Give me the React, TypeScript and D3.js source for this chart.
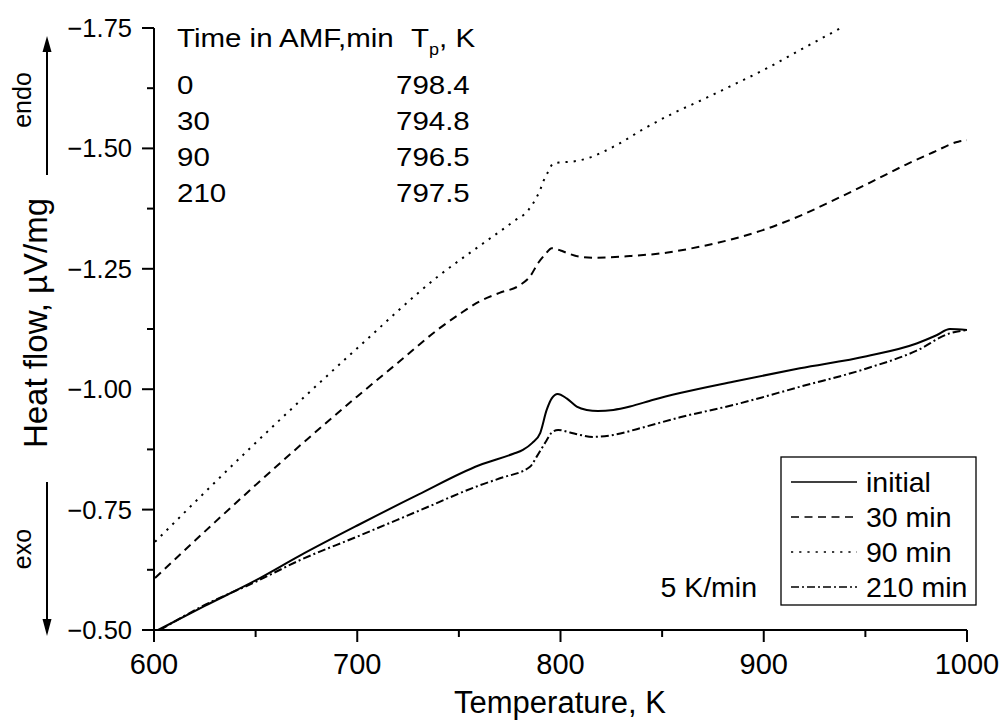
import React from 'react';
import * as d3 from 'd3';

// ---- data ----
const T_INITIAL = [602, 625, 650, 672, 700, 730, 760, 776.8, 781.5, 786, 790, 793.2, 795.7, 798.6, 803, 808, 812.9, 818.4, 826, 834.2, 845.7, 858.8, 884.9, 917.8, 950.6, 975.2, 985, 991.6, 1000];
const HF_INITIAL = [-0.5, -0.55, -0.603, -0.655, -0.717, -0.781, -0.842, -0.866, -0.874, -0.888, -0.909, -0.957, -0.981, -0.99, -0.981, -0.964, -0.957, -0.9547, -0.957, -0.964, -0.978, -0.992, -1.0156, -1.0434, -1.0685, -1.095, -1.112, -1.125, -1.123];

const T_30 = [600.5, 630, 669.4, 700, 720, 740, 750, 760, 770, 780, 785, 789, 792.5, 795.7, 800, 803.7, 809.6, 817.8, 834.2, 852, 868.6, 884.9, 901.4, 917.8, 934.2, 952.3, 970.3, 983.4, 995.7, 1000];
const HF_30 = [-0.608, -0.724, -0.874, -0.985, -1.055, -1.125, -1.155, -1.182, -1.2, -1.216, -1.234, -1.262, -1.28, -1.2926, -1.288, -1.282, -1.275, -1.273, -1.2765, -1.2834, -1.296, -1.312, -1.333, -1.36, -1.392, -1.429, -1.467, -1.492, -1.514, -1.517];

const T_90 = [600.5, 646.4, 700, 740, 762, 776.8, 784.2, 787.5, 790, 791.5, 794, 796.5, 800, 804.7, 812.9, 821.1, 829.3, 840.7, 855, 870.3, 885, 901.4, 917.8, 934.2, 938.3];
const HF_90 = [-0.683, -0.874, -1.085, -1.235, -1.303, -1.348, -1.372, -1.393, -1.414, -1.431, -1.452, -1.469, -1.471, -1.472, -1.479, -1.493, -1.511, -1.54, -1.572, -1.602, -1.632, -1.666, -1.704, -1.7416, -1.751];

const T_210 = [603, 625, 650, 671.8, 700, 730, 760, 770.2, 785, 788.3, 793.2, 795.7, 798.8, 804.7, 809.6, 816, 826, 839.1, 858.8, 884.9, 917.8, 950.6, 975.2, 991.6, 1000];
const HF_210 = [-0.5, -0.552, -0.6, -0.645, -0.694, -0.747, -0.8, -0.815, -0.839, -0.86, -0.894, -0.91, -0.9153, -0.91, -0.905, -0.901, -0.905, -0.919, -0.9417, -0.967, -1.005, -1.043, -1.08, -1.116, -1.123];

const X_TICKS = [600, 700, 800, 900, 1000];
const X_MINOR = [650, 750, 850, 950];
const Y_TICKS = [-0.5, -0.75, -1.0, -1.25, -1.5, -1.75];
const Y_MINOR = [-0.625, -0.875, -1.125, -1.375, -1.625];

const TABLE_TIMES = ['0', '30', '90', '210'];
const TABLE_TP = ['798.4', '794.8', '796.5', '797.5'];
const LEGEND_LABELS = ['initial', '30 min', '90 min', '210 min'];

const FONT = '"Liberation Sans", Arial, Helvetica, sans-serif';

export default function App() {
  const x = d3.scaleLinear().domain([600, 1000]).range([154, 967]);
  const y = d3.scaleLinear().domain([-0.5, -1.75]).range([630, 28]);

  const series = [
    { t: T_INITIAL, v: HF_INITIAL, dash: 'none' },
    { t: T_30, v: HF_30, dash: '8,5.5' },
    { t: T_90, v: HF_90, dash: '2.2,6' },
    { t: T_210, v: HF_210, dash: '8,3,2,3' },
  ];

  const line = d3
    .line<[number, number]>()
    .x((d) => x(d[0]))
    .y((d) => y(d[1]))
    .curve(d3.curveMonotoneX);

  const fmt = d3.format('.2f');
  const sq = 0.87; // vertical squash of the table text

  return (
    <svg
      width={1000}
      height={720}
      style={{ position: 'absolute', left: 0, top: 0, background: '#fff' }}
      fontFamily={FONT}
    >
      <defs>
        <clipPath id="plotclip">
          <rect x={154} y={27} width={813} height={604} />
        </clipPath>
      </defs>
      <rect width={1000} height={720} fill="#fff" />

      {/* curves */}
      <g clipPath="url(#plotclip)">
        {series.map((s, i) => (
          <path
            key={i}
            d={line(s.t.map((t, k) => [t, s.v[k]] as [number, number])) || ''}
            fill="none"
            stroke="#000"
            strokeWidth={2}
            strokeDasharray={s.dash}
          />
        ))}
      </g>

      {/* axes */}
      <g stroke="#000" strokeWidth={2}>
        <line x1={x(600)} x2={x(1000)} y1={y(-0.5)} y2={y(-0.5)} />
        <line x1={x(600)} x2={x(600)} y1={y(-0.5)} y2={y(-1.75)} />
        {X_TICKS.map((t) => (
          <line key={t} x1={x(t)} x2={x(t)} y1={y(-0.5)} y2={y(-0.5) + 12} />
        ))}
        {X_MINOR.map((t) => (
          <line key={t} x1={x(t)} x2={x(t)} y1={y(-0.5)} y2={y(-0.5) + 7} />
        ))}
        {Y_TICKS.map((t) => (
          <line key={t} x1={x(600) - 12} x2={x(600)} y1={y(t)} y2={y(t)} />
        ))}
        {Y_MINOR.map((t) => (
          <line key={t} x1={x(600) - 7} x2={x(600)} y1={y(t)} y2={y(t)} />
        ))}
      </g>

      {/* tick labels */}
      <g fontSize={25.5} textAnchor="end" fill="#000">
        {Y_TICKS.map((t) => (
          <text key={t} x={132} y={y(t) + 9}>
            {fmt(t)}
          </text>
        ))}
      </g>
      <g fontSize={29} textAnchor="middle" fill="#000">
        {X_TICKS.map((t) => (
          <text key={t} x={x(t)} y={674}>
            {t}
          </text>
        ))}
      </g>

      {/* axis titles */}
      <text x={560} y={713} fontSize={31} textAnchor="middle">
        Temperature, K
      </text>
      <text transform="translate(47,323) rotate(-90)" fontSize={33} textAnchor="middle">
        Heat flow, µV/mg
      </text>

      {/* endo / exo */}
      <text transform="translate(31,100) rotate(-90)" fontSize={25} textAnchor="middle">
        endo
      </text>
      <text transform="translate(31,549) rotate(-90)" fontSize={25} textAnchor="middle">
        exo
      </text>
      <line x1={47} x2={47} y1={175} y2={48} stroke="#000" strokeWidth={2} />
      <path d="M47,36 L51.5,52 L42.5,52 Z" fill="#000" />
      <line x1={47} x2={47} y1={482} y2={620} stroke="#000" strokeWidth={2} />
      <path d="M47,636 L51.5,619 L42.5,619 Z" fill="#000" />

      {/* table */}
      <g transform={`scale(1,${sq})`} fontSize={29.5} fill="#000">
        <text x={177} y={47 / sq}>Time in AMF,min</text>
        <text x={411} y={47 / sq}>
          T<tspan fontSize={18} dy={9}>p</tspan>
          <tspan dy={-9}>, K</tspan>
        </text>
        {TABLE_TIMES.map((s, i) => (
          <text key={s} x={177} y={(94 + i * 36) / sq}>
            {s}
          </text>
        ))}
        {TABLE_TP.map((s, i) => (
          <text key={s} x={396} y={(94 + i * 36) / sq}>
            {s}
          </text>
        ))}
      </g>

      {/* rate note */}
      <text x={757} y={597} fontSize={28.5} textAnchor="end">
        5 K/min
      </text>

      {/* legend */}
      <rect x={781} y={457} width={195} height={148} fill="#fff" stroke="#000" strokeWidth={1.3} />
      {LEGEND_LABELS.map((lab, i) => (
        <g key={lab}>
          <line
            x1={791}
            x2={857}
            y1={482 + i * 35}
            y2={482 + i * 35}
            stroke="#000"
            strokeWidth={1.5}
            strokeDasharray={series[i].dash}
          />
          <text x={866} y={492 + i * 35} fontSize={28.5}>
            {lab}
          </text>
        </g>
      ))}
    </svg>
  );
}
